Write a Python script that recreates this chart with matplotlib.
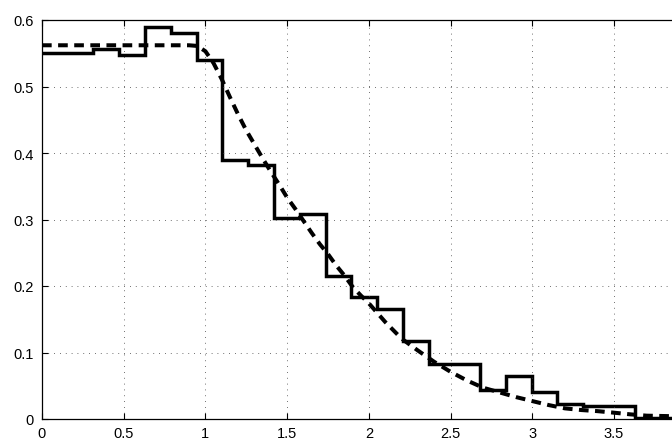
import numpy as np
import matplotlib
matplotlib.use('Agg')
import matplotlib.pyplot as plt

# Step (histogram) edges and heights
edges = [0, 0.315, 0.473, 0.631, 0.789, 0.946, 1.104, 1.262, 1.419, 1.577, 1.735,
         1.892, 2.050, 2.208, 2.366, 2.681, 2.839, 2.997, 3.154, 3.312, 3.627, 3.9]
heights = [0.551, 0.556, 0.548, 0.589, 0.580, 0.540, 0.389, 0.382, 0.302, 0.308,
           0.215, 0.183, 0.165, 0.118, 0.083, 0.044, 0.064, 0.041, 0.023, 0.020, 0.002]

# Smooth (dashed) curve
curve_x = [0, 0.5, 0.9, 0.95, 1.0, 1.05, 1.1, 1.15, 1.2, 1.25, 1.3, 1.35, 1.4, 1.45,
           1.5, 1.55, 1.6, 1.65, 1.7, 1.75, 1.8, 1.85, 1.9, 1.95, 2.0, 2.1, 2.2, 2.3,
           2.4, 2.5, 2.6, 2.7, 2.8, 2.9, 3.0, 3.1, 3.2, 3.3, 3.4, 3.5, 3.6, 3.7, 3.9]
curve_y = [0.562, 0.562, 0.562, 0.561, 0.553, 0.535, 0.511, 0.484, 0.458, 0.434,
           0.413, 0.392, 0.372, 0.353, 0.333, 0.316, 0.298, 0.280, 0.263, 0.248,
           0.231, 0.216, 0.199, 0.186, 0.174, 0.146, 0.121, 0.103, 0.086, 0.071,
           0.058, 0.047, 0.040, 0.033, 0.027, 0.021, 0.016, 0.0135, 0.0118, 0.0095,
           0.007, 0.005, 0.004]

xticks = [0, 0.5, 1, 1.5, 2, 2.5, 3, 3.5]
xticklabels = ['0', '0.5', '1', '1.5', '2', '2.5', '3', '3.5']
yticks = [0, 0.1, 0.2, 0.3, 0.4, 0.5, 0.6]
yticklabels = ['0', '0.1', '0.2', '0.3', '0.4', '0.5', '0.6']

plt.rcParams['font.family'] = ['Liberation Sans', 'DejaVu Sans']

fig = plt.figure(figsize=(6.72, 4.39), dpi=100)
ax = fig.add_axes([42 / 672, 19 / 439, 637.3 / 672, 399 / 439])

ax.stairs(heights, edges, color='black', linewidth=2.5, baseline=None)
ax.plot(curve_x, curve_y, color='black', linewidth=2.9,
        dashes=(2.4, 1.6), dash_capstyle='butt')

ax.set_xlim(0, 3.9)
ax.set_ylim(0, 0.6)
ax.set_xticks(xticks)
ax.set_xticklabels(xticklabels)
ax.set_yticks(yticks)
ax.set_yticklabels(yticklabels)

ax.grid(True, color='0.25', linestyle=(0, (1, 6)), linewidth=0.6)
ax.tick_params(direction='in', top=True, right=True, length=4, width=0.8,
               labelsize=10.5, colors='black')
ax.tick_params(axis='x', pad=5)
ax.tick_params(axis='y', pad=6)
for s in ax.spines.values():
    s.set_linewidth(0.9)

fig.savefig('out.png', dpi=100)
